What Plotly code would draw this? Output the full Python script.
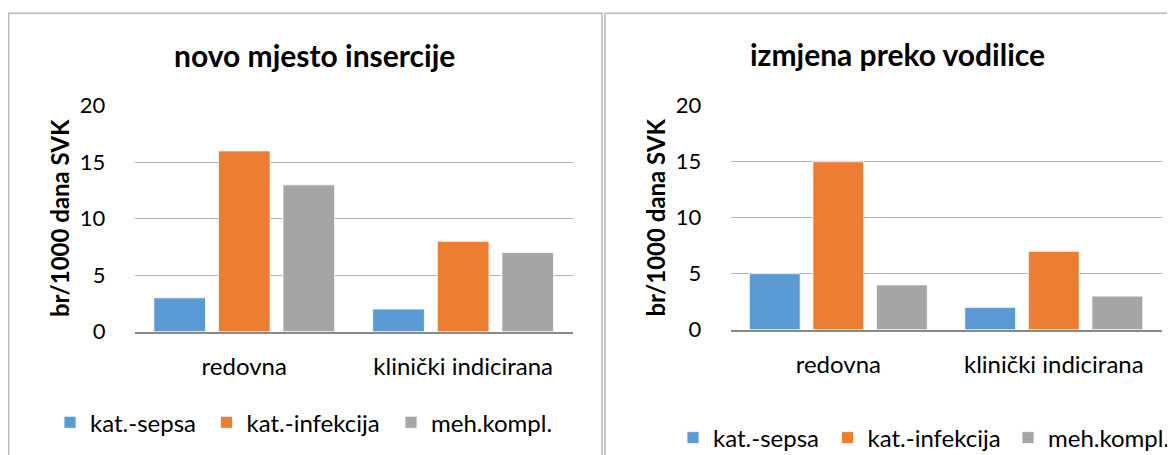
import plotly.graph_objects as go

# ---------------- data ----------------
categories = ["redovna", "klinički indicirana"]
series_names = ["kat.-sepsa", "kat.-infekcija", "meh.kompl."]
left_title = "novo mjesto insercije"
right_title = "izmjena preko vodilice"
y_title = "br/1000 dana SVK"

left_sepsa = [3, 2]
left_infekcija = [16, 8]
left_meh = [13, 7]

right_sepsa = [5, 2]
right_infekcija = [15, 7]
right_meh = [4, 3]

y_ticks = [0, 5, 10, 15, 20]
colors = ["#5B9BD5", "#ED7D31", "#A5A5A5"]

# ---------------- layout helpers ----------------
# the page body has an 8px margin, so the figure is drawn 8px in from the
# top-left corner; positions below are given in window pixels.
OFF = 8
W, H = 1175 - OFF, 455 - OFF
FONT = "Lato"


def fx(px):
    return (px - OFF) / W


def fy(py):
    return 1 - (py - OFF) / H


fig = go.Figure()

left_series = [left_sepsa, left_infekcija, left_meh]
right_series = [right_sepsa, right_infekcija, right_meh]

# each legend entry gets its own legend box so it can sit where the original has it
left_legend_x = [72, 228.5, 413]      # symbol centres (window px)
right_legend_x = [695, 849.5, 1033.5]
left_legend_y = 422.7
right_legend_y = 438

legend_common = dict(
    orientation="h", yanchor="middle",
    font=dict(family=FONT, size=24, color="#000000"),
    bgcolor="rgba(0,0,0,0)",
)
legend_layout = {}

for i, (name, vals, col) in enumerate(zip(series_names, left_series, colors)):
    key = "legend" if i == 0 else f"legend{i + 1}"
    fig.add_trace(go.Bar(
        x=categories, y=vals, name=name, marker_color=col,
        marker_line=dict(color="white", width=0.8),
        xaxis="x", yaxis="y", legend=key,
    ))
    legend_layout[key] = dict(x=fx(left_legend_x[i] - 22), xanchor="left",
                              y=fy(left_legend_y), **legend_common)

for i, (name, vals, col) in enumerate(zip(series_names, right_series, colors)):
    key = f"legend{i + 4}"
    fig.add_trace(go.Bar(
        x=categories, y=vals, name=name, marker_color=col,
        marker_line=dict(color="white", width=0.8),
        xaxis="x2", yaxis="y2", legend=key,
    ))
    if i == 2:
        # last entry touches the right edge of the window
        legend_layout[key] = dict(x=1, xanchor="right", y=fy(right_legend_y), **legend_common)
    else:
        legend_layout[key] = dict(x=fx(right_legend_x[i] - 22), xanchor="left",
                                  y=fy(right_legend_y), **legend_common)

xaxis_common = dict(
    showline=True, linecolor="#898989", linewidth=2,
    ticks="outside", ticklen=12, tickcolor="rgba(0,0,0,0)",
    tickfont=dict(family=FONT, size=24, color="#000000"),
    showgrid=False, zeroline=False, fixedrange=True,
)
yaxis_common = dict(
    range=[0, 20], tickvals=y_ticks,
    showgrid=True, gridcolor="#b4b4b4", gridwidth=1.3,
    ticks="outside", ticklen=24, tickcolor="rgba(0,0,0,0)",
    tickfont=dict(family=FONT, size=22, color="#000000"),
    zeroline=False, showline=False, fixedrange=True,
)

fig.update_layout(
    width=W, height=H, autosize=False,
    margin=dict(l=0, r=0, t=0, b=0, autoexpand=False),
    paper_bgcolor="white", plot_bgcolor="white",
    barmode="group", bargap=0.115, bargroupgap=0.2,
    font=dict(family=FONT, color="#000000"),
    xaxis=dict(domain=[fx(134.8), fx(572.6)], anchor="y", **xaxis_common),
    yaxis=dict(domain=[fy(331.7), fy(105.7)], anchor="x", **yaxis_common),
    xaxis2=dict(domain=[fx(730.6), fx(1161.5)], anchor="y2", **xaxis_common),
    yaxis2=dict(domain=[fy(329.7), fy(105.7)], anchor="x2", **yaxis_common),
    showlegend=True,
    **legend_layout,
)

# chart titles
fig.add_annotation(text=left_title, x=fx(314.5), y=fy(55), xref="paper", yref="paper",
                   showarrow=False, xanchor="center", yanchor="middle",
                   font=dict(family=FONT, size=30, weight=700, color="#000000"))
fig.add_annotation(text=right_title, x=fx(897.5), y=fy(54), xref="paper", yref="paper",
                   showarrow=False, xanchor="center", yanchor="middle",
                   font=dict(family=FONT, size=30, weight=700, color="#000000"))

# y axis titles
fig.add_annotation(text=y_title, x=fx(59), y=fy(218), xref="paper", yref="paper",
                   showarrow=False, textangle=-90, xanchor="center", yanchor="middle",
                   font=dict(family=FONT, size=24, weight=700, color="#000000"))
fig.add_annotation(text=y_title, x=fx(655), y=fy(217.5), xref="paper", yref="paper",
                   showarrow=False, textangle=-90, xanchor="center", yanchor="middle",
                   font=dict(family=FONT, size=24, weight=700, color="#000000"))

# chart frames
fig.add_shape(type="rect", xref="paper", yref="paper",
              x0=fx(8.7), x1=fx(602), y0=fy(13.3), y1=fy(470),
              line=dict(color="#b8b8b8", width=1.5), fillcolor="rgba(0,0,0,0)", layer="below")
fig.add_shape(type="rect", xref="paper", yref="paper",
              x0=fx(605), x1=fx(1190), y0=fy(13.3), y1=fy(470),
              line=dict(color="#b8b8b8", width=1.5), fillcolor="rgba(0,0,0,0)", layer="below")

fig.write_html("out.html", config={"displayModeBar": False})
